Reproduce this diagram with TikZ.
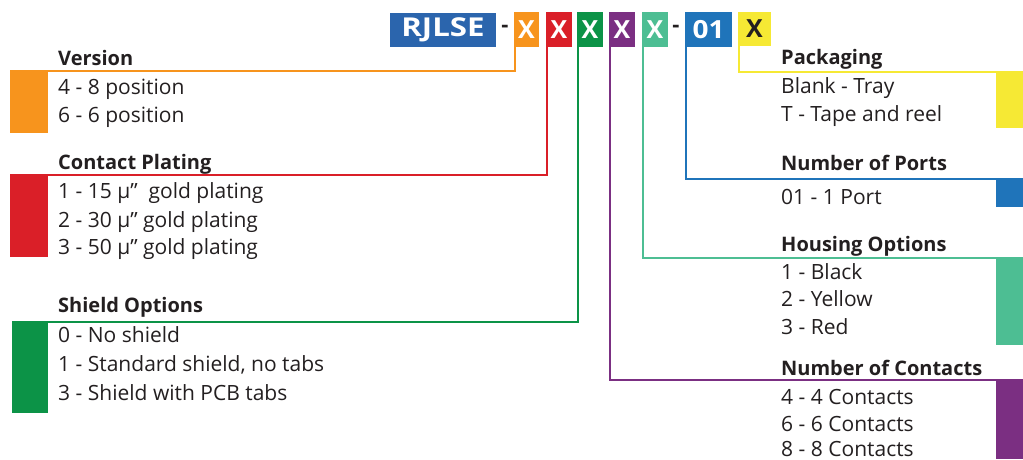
\documentclass[tikz,border=0pt]{standalone}
\usepackage{fontspec}
\setmainfont{Open Sans}
\definecolor{cOrange}{HTML}{F7941D}
\definecolor{cRed}{HTML}{DA1F28}
\definecolor{cGreen}{HTML}{0C9347}
\definecolor{cPurple}{HTML}{7B2F82}
\definecolor{cTeal}{HTML}{4DBE93}
\definecolor{cBlue}{HTML}{1F74BA}
\definecolor{cNavy}{HTML}{2B65AD}
\definecolor{cYellow}{HTML}{F6E934}
\definecolor{cText}{HTML}{231F20}
\begin{document}
\begin{tikzpicture}[x=1pt,y=-1pt,
  hbox/.style={inner sep=0pt, text=white, font=\fontsize{25}{25}\selectfont\bfseries},
  lbl/.style={inner sep=0pt, anchor=base west, text=cText, font=\fontsize{21}{21}\selectfont},
  hdr/.style={inner sep=0pt, anchor=base west, text=cText, font=\fontsize{20}{20}\selectfont\bfseries},
  hyph/.style={inner sep=0pt, text=cText, font=\fontsize{22}{22}\selectfont\bfseries},
  conn/.style={line width=2.2pt}]
\useasboundingbox (0,0) rectangle (1023,459);
% header
\node[hbox, fill=cNavy, minimum width=106pt, minimum height=34pt, font=\fontsize{26}{26}\selectfont\bfseries] (rj) at (443,30) {\scalebox{1.2}[1]{RJLSE}};
\node[hyph] (d1) at (505,29) {-};
\node[hbox, fill=cOrange, minimum width=25pt, minimum height=35pt] (xo) at (526.5,29.5) {X};
\node[hbox, fill=cRed, minimum width=26pt, minimum height=35pt] (xr) at (559,29.5) {X};
\node[hbox, fill=cGreen, minimum width=26pt, minimum height=35pt] (xg) at (590,29.5) {X};
\node[hbox, fill=cPurple, minimum width=26pt, minimum height=35pt] (xp) at (622,29.5) {X};
\node[hbox, fill=cTeal, minimum width=26pt, minimum height=35pt] (xt) at (655,29.5) {X};
\node[hyph] (d2) at (676,29) {-};
\node[hbox, fill=cBlue, minimum width=47pt, minimum height=35pt] (x01) at (708.5,29.5) {\scalebox{1.12}[1]{01}};
\node[hbox, fill=cYellow, text=cText, minimum width=33pt, minimum height=34pt] (xy) at (754.5,29) {X};
% blocks
\path[fill=cOrange] (10,70) rectangle (48,133);
\path[fill=cRed] (10,174) rectangle (48,257);
\path[fill=cGreen] (12,321) rectangle (48,413);
\path[fill=cYellow] (996,72) rectangle (1023,128);
\path[fill=cBlue] (996,178) rectangle (1023,207);
\path[fill=cTeal] (996,258) rectangle (1023,345);
\path[fill=cPurple] (996,380) rectangle (1023,459);
\coordinate (eo) at (48,71);
\coordinate (er) at (48,175);
\coordinate (eg) at (48,322);
\coordinate (ey) at (1023,72);
\coordinate (eb) at (1023,179);
\coordinate (et) at (1023,258);
\coordinate (ep) at (1023,380);
% connectors
\draw[conn, cOrange] ([xshift=1pt]xo.south west) |- (eo);
\draw[conn, cRed] ([xshift=1pt]xr.south west) |- (er);
\draw[conn, cGreen] ([xshift=1pt]xg.south west) |- (eg);
\draw[conn, cPurple] ([xshift=1pt]xp.south west) |- (ep);
\draw[conn, cTeal] ([xshift=1pt]xt.south west) |- (et);
\draw[conn, cBlue] ([xshift=1pt]x01.south west) |- (eb);
\draw[conn, cYellow] ([xshift=1pt]xy.south west) |- (ey);
% left texts
\node[hdr] (hv) at (58,65) {Version};
\node[lbl] (v1) at (58,94) {4 - 8 position};
\node[lbl] (v2) at (58,122) {6 - 6 position};
\node[hdr] (hc) at (58,169) {Contact Plating};
\node[lbl] (c1) at (58,198) {1 - 15 µ\char"201D\ \ gold plating};
\node[lbl] (c2) at (58,227) {2 - 30 µ\char"201D\ gold plating};
\node[lbl] (c3) at (58,254) {3 - 50 µ\char"201D\ gold plating};
\node[hdr] (hs) at (58,312) {Shield Options};
\node[lbl] (s1) at (58,342) {0 - No shield};
\node[lbl] (s2) at (58,371) {1 - Standard shield, no tabs};
\node[lbl] (s3) at (58,400) {3 - Shield with PCB tabs};
% right texts
\node[hdr] (hp) at (781,64) {Packaging};
\node[lbl] (p1) at (781,93) {Blank - Tray};
\node[lbl] (p2) at (781,121) {T - Tape and reel};
\node[hdr] (hn) at (781,170) {Number of Ports};
\node[lbl] (n1) at (781,204) {01 - 1 Port};
\node[hdr] (hh) at (781,251) {Housing Options};
\node[lbl] (h1) at (781,279) {1 - Black};
\node[lbl] (h2) at (781,306) {2 - Yellow};
\node[lbl] (h3) at (781,334) {3 - Red};
\node[hdr] (hk) at (781,375) {Number of Contacts};
\node[lbl] (k1) at (781,404) {4 - 4 Contacts};
\node[lbl] (k2) at (781,431) {6 - 6 Contacts};
\node[lbl] (k3) at (781,456) {8 - 8 Contacts};
\end{tikzpicture}
\end{document}
